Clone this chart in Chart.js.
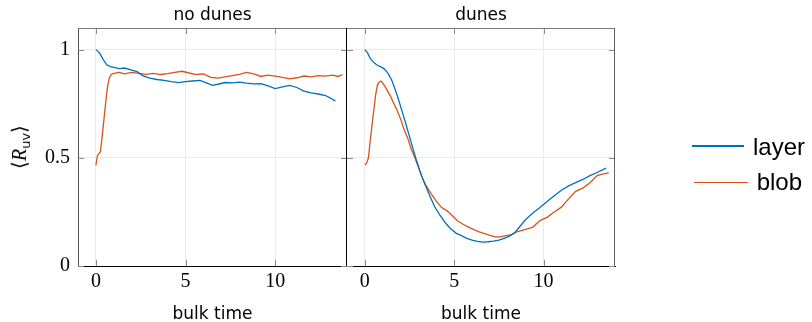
<!DOCTYPE html>
<html><head><meta charset="utf-8">
<script src="https://cdn.jsdelivr.net/npm/chart.js@4/dist/chart.umd.min.js"></script>
<style>
html,body{margin:0;padding:0;background:#fff;}
#wrap{position:relative;width:812px;height:322px;overflow:hidden;background:#fff;}
canvas{position:absolute;left:0;top:0;}
.t{position:absolute;font-family:"DejaVu Sans";font-size:17px;line-height:17px;white-space:nowrap;color:#000;transform:translateX(-50%);}
.lg{position:absolute;font-family:"Liberation Sans";font-size:24px;line-height:24px;white-space:nowrap;color:#000;}
.ln{position:absolute;height:1.5px;}
</style></head><body>
<div id="wrap">
<canvas id="c1" width="812" height="322"></canvas>
<canvas id="c2" width="812" height="322"></canvas>
<div class="t" style="left:212.5px;top:5.6px">no dunes</div>
<div class="t" style="left:481px;top:5.6px">dunes</div>
<div class="t" style="left:212.5px;top:304.6px">bulk time</div>
<div class="t" style="left:481px;top:304.6px">bulk time</div>
<div style="position:absolute;left:19px;top:147px;transform:translate(-50%,-50%) rotate(-90deg);font-family:'Liberation Serif';font-size:20px;line-height:20px;white-space:nowrap;">⟨<i>R</i><sub style="font-family:'DejaVu Sans';font-size:13px;line-height:0;vertical-align:-4px;">uv</sub>⟩</div>
<div class="ln" style="left:692px;top:145px;width:52px;background:#0072BD"></div>
<div class="ln" style="left:694px;top:181.5px;width:54px;background:#D95319"></div>
<div class="lg" style="left:753px;top:134.7px">layer</div>
<div class="lg" style="left:756.7px;top:169.7px">blob</div>
</div>
<script>
const xTicks = [0, 5, 10];
const yTicks = [0, 0.5, 1];
const yTickLabels = ['0', '0.5', '1'];

// no dunes, layer
const tLayerNoDunes = [0,0.2,0.4,0.6,0.8,1.0,1.3,1.6,2.0,2.3,2.6,3.0,3.4,3.8,4.2,4.6,5.0,5.4,5.8,6.2,6.5,6.8,7.2,7.6,8.0,8.4,8.8,9.2,9.6,10.0,10.4,10.8,11.2,11.6,12.0,12.4,12.8,13.1,13.35];
const layerNoDunes = [1.0,0.985,0.955,0.93,0.922,0.918,0.912,0.915,0.905,0.898,0.88,0.868,0.862,0.858,0.852,0.848,0.852,0.855,0.858,0.845,0.835,0.84,0.848,0.846,0.85,0.845,0.842,0.843,0.832,0.82,0.828,0.835,0.825,0.808,0.8,0.795,0.788,0.775,0.762];
// no dunes, blob
const tBlobNoDunes = [0,0.08,0.25,0.35,0.45,0.55,0.65,0.75,0.85,1.0,1.3,1.6,2.0,2.4,2.8,3.2,3.6,4.0,4.4,4.8,5.2,5.6,6.0,6.4,6.8,7.2,7.6,8.0,8.4,8.8,9.2,9.6,10.0,10.4,10.8,11.2,11.6,12.0,12.4,12.8,13.2,13.5,13.75];
const blobNoDunes = [0.466,0.51,0.528,0.6,0.68,0.76,0.83,0.87,0.885,0.89,0.895,0.888,0.895,0.89,0.886,0.89,0.885,0.889,0.895,0.9,0.892,0.885,0.888,0.872,0.868,0.874,0.88,0.886,0.895,0.888,0.876,0.882,0.878,0.872,0.865,0.87,0.878,0.874,0.88,0.878,0.882,0.876,0.885];
// dunes, layer
const tLayerDunes = [0,0.15,0.3,0.5,0.7,0.9,1.1,1.3,1.5,1.7,1.9,2.1,2.3,2.5,2.7,2.9,3.1,3.3,3.6,3.9,4.2,4.5,4.8,5.1,5.4,5.7,6.0,6.3,6.6,6.9,7.2,7.5,7.8,8.1,8.4,8.7,9.0,9.4,9.8,10.2,10.6,11.0,11.4,11.8,12.2,12.6,13.0,13.5];
const layerDunes = [1.0,0.985,0.96,0.94,0.928,0.92,0.91,0.89,0.86,0.815,0.765,0.71,0.655,0.598,0.54,0.485,0.435,0.39,0.33,0.275,0.235,0.2,0.172,0.152,0.14,0.128,0.12,0.114,0.11,0.112,0.115,0.12,0.128,0.138,0.155,0.185,0.215,0.245,0.27,0.298,0.325,0.35,0.37,0.385,0.4,0.418,0.432,0.452];
// dunes, blob
const tBlobDunes = [0,0.1,0.2,0.3,0.4,0.5,0.6,0.7,0.8,0.9,1.0,1.2,1.4,1.6,1.8,2.0,2.2,2.4,2.6,2.8,3.0,3.2,3.4,3.7,4.0,4.3,4.6,4.9,5.2,5.5,5.8,6.1,6.4,6.7,7.0,7.3,7.6,7.9,8.2,8.5,8.8,9.1,9.4,9.8,10.2,10.6,11.0,11.4,11.8,12.2,12.6,13.0,13.3,13.65];
const blobDunes = [0.466,0.475,0.5,0.58,0.65,0.72,0.79,0.835,0.85,0.855,0.845,0.82,0.79,0.755,0.72,0.68,0.63,0.59,0.54,0.5,0.455,0.41,0.375,0.335,0.3,0.27,0.255,0.232,0.208,0.193,0.18,0.168,0.158,0.15,0.142,0.135,0.135,0.14,0.145,0.158,0.165,0.172,0.18,0.21,0.225,0.25,0.272,0.31,0.345,0.36,0.385,0.418,0.425,0.43];

const LAYER_COLOR = '#0072BD';
const BLOB_COLOR = '#D95319';

function pts(ts, ys){ return ts.map((t,i)=>({x:t, y:ys[i]})); }

const framePlugin = {
  id:'frame',
  afterDatasetsDraw(chart, args, opts){
    const {ctx, chartArea:a, scales} = chart;
    ctx.save();
    ctx.lineWidth = 1;
    ctx.strokeStyle = '#8a8a8a';
    const line=(x1,y1,x2,y2)=>{ctx.beginPath();ctx.moveTo(x1,y1);ctx.lineTo(x2,y2);ctx.stroke();};
    xTicks.forEach(v=>{
      const x = Math.round(scales.x.getPixelForValue(v))+0.5;
      line(x,a.bottom,x,a.bottom-6);
      line(x,a.top,x,a.top+6);
    });
    yTicks.forEach(v=>{
      const y = Math.round(scales.y.getPixelForValue(v))+0.5;
      line(a.left,y,a.left+6,y);
      line(a.right,y,a.right-6,y);
    });
    ctx.strokeStyle = '#7a7a7a';
    line(a.left, a.top+0.5, a.right, a.top+0.5);
    ctx.strokeStyle = opts.rightColor;
    line(a.right-0.5, a.top, a.right-0.5, a.bottom);
    ctx.restore();
  }
};

function makeChart(id, tL, L, tB, B, isLeft){
  const right = isLeft ? 347 : 615;
  return new Chart(document.getElementById(id), {
    type:'line',
    data:{datasets:[
      {data:pts(tL,L), borderColor:LAYER_COLOR, borderWidth:1.3, pointRadius:0, tension:0, fill:false},
      {data:pts(tB,B), borderColor:BLOB_COLOR, borderWidth:1.3, pointRadius:0, tension:0, fill:false}
    ]},
    options:{
      responsive:false, animation:false, events:[],
      layout:{padding:{left:isLeft?0:347, right:812-right, top:28, bottom:0}},
      plugins:{legend:{display:false}, tooltip:{enabled:false}, title:{display:false}, frame:{rightColor: isLeft?'#000':'#606060'}},
      scales:{
        x:{type:'linear', min:-1, max:14,
          afterBuildTicks:s=>{s.ticks = xTicks.map(v=>({value:v}));},
          afterFit:s=>{s.height=56;},
          ticks:{font:{family:'Liberation Serif', size:20}, color:'#000', padding:4, maxRotation:0, autoSkip:false, callback:v=>String(v)},
          grid:{color:'#ebebeb', lineWidth:1, drawTicks:false},
          border:{display:true, color:'#000', width:1}},
        y:{type:'linear', min:0, max:1.1,
          afterBuildTicks:s=>{s.ticks = yTicks.map(v=>({value:v}));},
          afterFit:s=>{s.width = isLeft?78:0;},
          ticks:{display:isLeft, font:{family:'Liberation Serif', size:20}, color:'#000', padding:8,
            callback:v=>yTickLabels[yTicks.indexOf(v)]},
          grid:{color:'#ebebeb', lineWidth:1, drawTicks:false},
          border:{display:isLeft, color:'#555', width:1}}
      }
    },
    plugins:[framePlugin]
  });
}

makeChart('c1', tLayerNoDunes, layerNoDunes, tBlobNoDunes, blobNoDunes, true);
makeChart('c2', tLayerDunes, layerDunes, tBlobDunes, blobDunes, false);
</script>
</body></html>
